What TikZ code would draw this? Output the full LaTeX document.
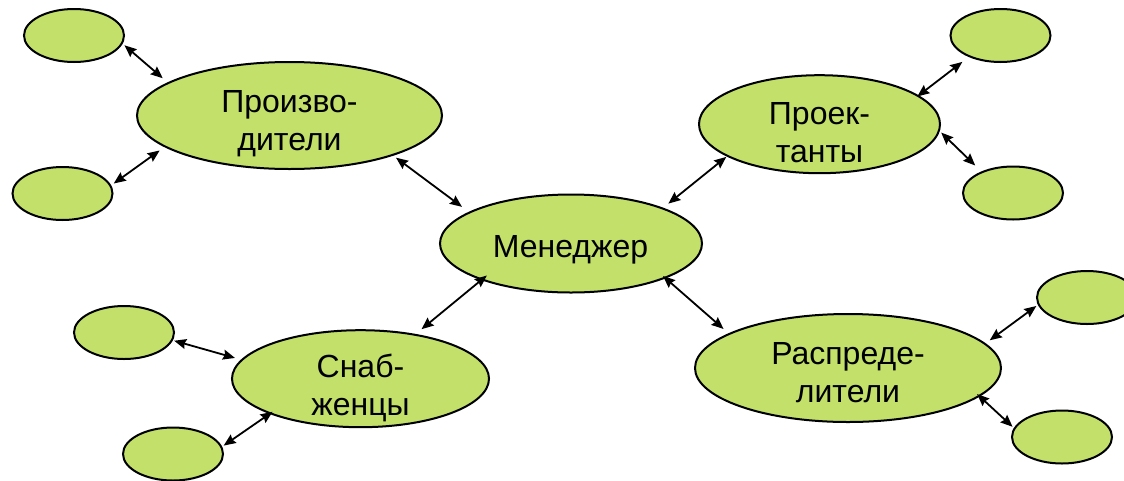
\documentclass[tikz,border=0pt]{standalone}
\usepackage{fontspec}
\setmainfont{Liberation Sans}
\usetikzlibrary{shapes.geometric,arrows.meta}
\definecolor{bubblegreen}{RGB}{194,224,106}
\tikzset{
  bubble/.style={ellipse, draw=black, fill=bubblegreen, line width=2pt, inner sep=0pt, outer sep=0pt},
  small/.style={bubble, minimum width=100pt, minimum height=53pt},
  lbl/.style={anchor=base, align=center, inner sep=0pt, font=\fontsize{32pt}{38pt}\selectfont},
  link/.style={line width=1.8pt, {Stealth[length=12pt,width=10pt,inset=1.5pt]}-{Stealth[length=12pt,width=10pt,inset=1.5pt]}}
}
\begin{document}
\begin{tikzpicture}[x=1pt,y=-1pt]
\useasboundingbox (0,0) rectangle (1124,480);
% main nodes
\node[bubble, minimum width=305pt, minimum height=107pt] (prod) at (289.5,115.5) {};
\node[bubble, minimum width=241pt, minimum height=98pt] (proj) at (819.5,124.2) {};
\node[bubble, minimum width=262pt, minimum height=98pt] (mgr) at (571,243.5) {};
\node[bubble, minimum width=257pt, minimum height=97pt] (snab) at (360.5,378.7) {};
\node[bubble, minimum width=306pt, minimum height=108pt] (dist) at (848,368) {};
% small nodes
\node[small] (tl) at (74,35.5) {};
\node[small] (l2) at (62.5,193.5) {};
\node[small] (tr) at (1000.5,35.5) {};
\node[small] (r2) at (1013,193) {};
\node[small] (sl) at (124,332.5) {};
\node[small] (sb) at (173,454) {};
\node[small] (rt) at (1087,297.5) {};
\node[small] (rb) at (1062,437) {};
% texts (base anchor = baseline of the last line)
\node[lbl] (prodT) at (289.5,150) {Произво-\\дители};
\node[lbl] (projT) at (819.5,162.3) {Проек-\\танты};
\node[lbl] (mgrT) at (570.5,257.7) {Менеджер};
\node[lbl] (snabT) at (360.5,415.7) {Снаб-\\женцы};
\node[lbl] (distT) at (848,402.3) {Распреде-\\лители};
% connectors
\draw[link, shorten <=3.35pt, shorten >=7.35pt] (tl.-9.9) -- (prod.165.6);
\draw[link, shorten <=4.1pt, shorten >=6.85pt] (l2.9.9) -- (prod.194.5);
\draw[link, shorten <=4.5pt, shorten >=9.45pt] (prod.-21.3) -- (mgr.163.4);
\draw[link, shorten <=7.65pt, shorten >=1.6pt] (mgr.21.5) -- (proj.199.3);
\draw[link, shorten <=-0.8pt, shorten >=9.2pt] (proj.16.2) -- (tr.214.9);
\draw[link, shorten <=3.05pt, shorten >=9.6pt] (proj.-3.3) -- (r2.146.9);
\draw[link, shorten <=-6.2pt, shorten >=8.75pt] (mgr.202.5) -- (snab.39.4);
\draw[link, shorten <=2.35pt, shorten >=7.3pt] (sl.-9.3) -- (snab.171.3);
\draw[link, shorten <=2.85pt, shorten >=-2.6pt] (sb.8.8) -- (snab.201.1);
\draw[link, shorten <=-2.5pt, shorten >=7.6pt] (mgr.-20.2) -- (dist.164.3);
\draw[link, shorten <=6.05pt, shorten >=2.9pt] (dist.10.2) -- (rt.188.9);
\draw[link, shorten <=-2.6pt, shorten >=2.75pt] (dist.-12.0) -- (rb.170.7);
\end{tikzpicture}
\end{document}
